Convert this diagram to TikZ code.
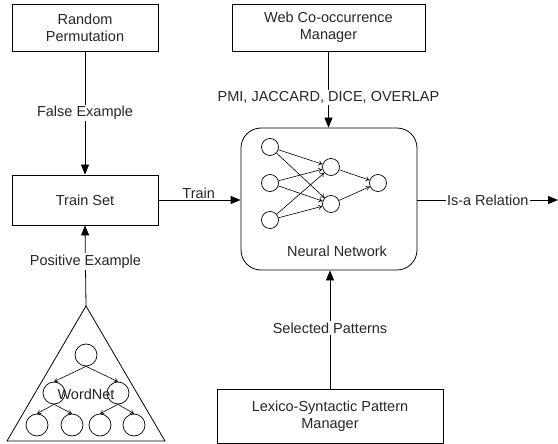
\documentclass[tikz,border=0pt]{standalone}
\usepackage{fontspec}
\setmainfont{Liberation Sans}
\usetikzlibrary{arrows.meta}
\begin{document}
\begin{tikzpicture}[x=1pt,y=-1pt,
  txt/.style={font=\fontsize{14.5}{17}\selectfont, text=black!85},
  box/.style={draw, line width=0.8pt, rectangle, align=center, inner sep=0pt, txt},
  lbl/.style={fill=white, inner sep=1.5pt, txt},
  flow/.style={line width=0.8pt, -{Triangle[length=10pt,width=8pt]}},
  neuron/.style={draw, circle, line width=0.7pt, minimum size=17pt, inner sep=0pt},
  syn/.style={line width=0.6pt, -{To[length=4pt,width=5pt]}},
  tnode/.style={draw, circle, line width=0.7pt, minimum size=22pt, inner sep=0pt},
  tedge/.style={line width=0.6pt, -{To[length=4pt,width=5pt]}}]
\useasboundingbox (0,0) rectangle (558,444);

% blocks
\node[box, minimum width=146pt, minimum height=47pt] (rp) at (85,27.5) {Random\\Permutation};
\node[box, minimum width=146pt, minimum height=50pt] (ts) at (85,200) {Train Set};
\node[box, minimum width=193pt, minimum height=47pt] (web) at (328.5,27.5) {Web Co-occurrence\\Manager};
\node[draw, line width=0.8pt, rounded corners=20pt, minimum width=176pt, minimum height=142pt] (nn) at (329,199) {};
\node[box, minimum width=226pt, minimum height=54pt] (lex) at (330,416) {Lexico-Syntactic Pattern\\Manager};
\node[txt] (nnlbl) at (337,251) {Neural Network};

% neural network inside the rounded box
\node[neuron] (i1) at (270,147) {};
\node[neuron] (i2) at (270,183) {};
\node[neuron] (i3) at (270,220) {};
\node[neuron] (h1) at (331,167) {};
\node[neuron] (h2) at (331,204) {};
\node[neuron] (o)  at (378,183) {};
\foreach \a in {i1,i2,i3}{
  \foreach \b in {h1,h2}{
    \draw[syn] (\a) -- (\b);
  }
}
\draw[syn] (h1) -- (o);
\draw[syn] (h2) -- (o);

% WordNet tree
\coordinate (apex) at (86,306);
\coordinate (bl) at (7,441);
\coordinate (br) at (165,441);
\draw[line width=0.8pt] (apex) -- (bl) -- (br) -- cycle;
\node[tnode] (t0) at (86,355) {};
\node[tnode] (t1) at (54,393) {};
\node[tnode] (t2) at (118,393) {};
\node[tnode] (t3) at (37,425) {};
\node[tnode] (t4) at (72,425) {};
\node[tnode] (t5) at (100,425) {};
\node[tnode] (t6) at (134,425) {};
\draw[tedge] (t0.south) -- (t1.north);
\draw[tedge] (t0.south) -- (t2.north);
\draw[tedge] (t1.south) -- (t3.north);
\draw[tedge] (t1.south) -- (t4.north);
\draw[tedge] (t2.south) -- (t5.north);
\draw[tedge] (t2.south) -- (t6.north);
\node[txt] (wn) at (86,394) {WordNet};

% connectors
\draw[flow] (rp.south) -- node[lbl, pos=0.5] {False Example} (ts.north);
\draw[flow] (apex) -- node[lbl, pos=0.55] {Positive Example} (ts.south);
\draw[flow] (ts.east) -- node[lbl, pos=0.49, yshift=7pt] {Train} (nn.west |- ts.east);
\draw[flow] (web.south) -- node[lbl, pos=0.6] {PMI, JACCARD, DICE, OVERLAP} (web.south |- nn.north);
\draw[flow] (lex.north) -- node[lbl, pos=0.51] {Selected Patterns} (lex.north |- nn.south);
\coordinate (out) at (558,200);
\draw[flow] (nn.east |- out) -- node[lbl, pos=0.5] {Is-a Relation} (out);
\end{tikzpicture}
\end{document}
